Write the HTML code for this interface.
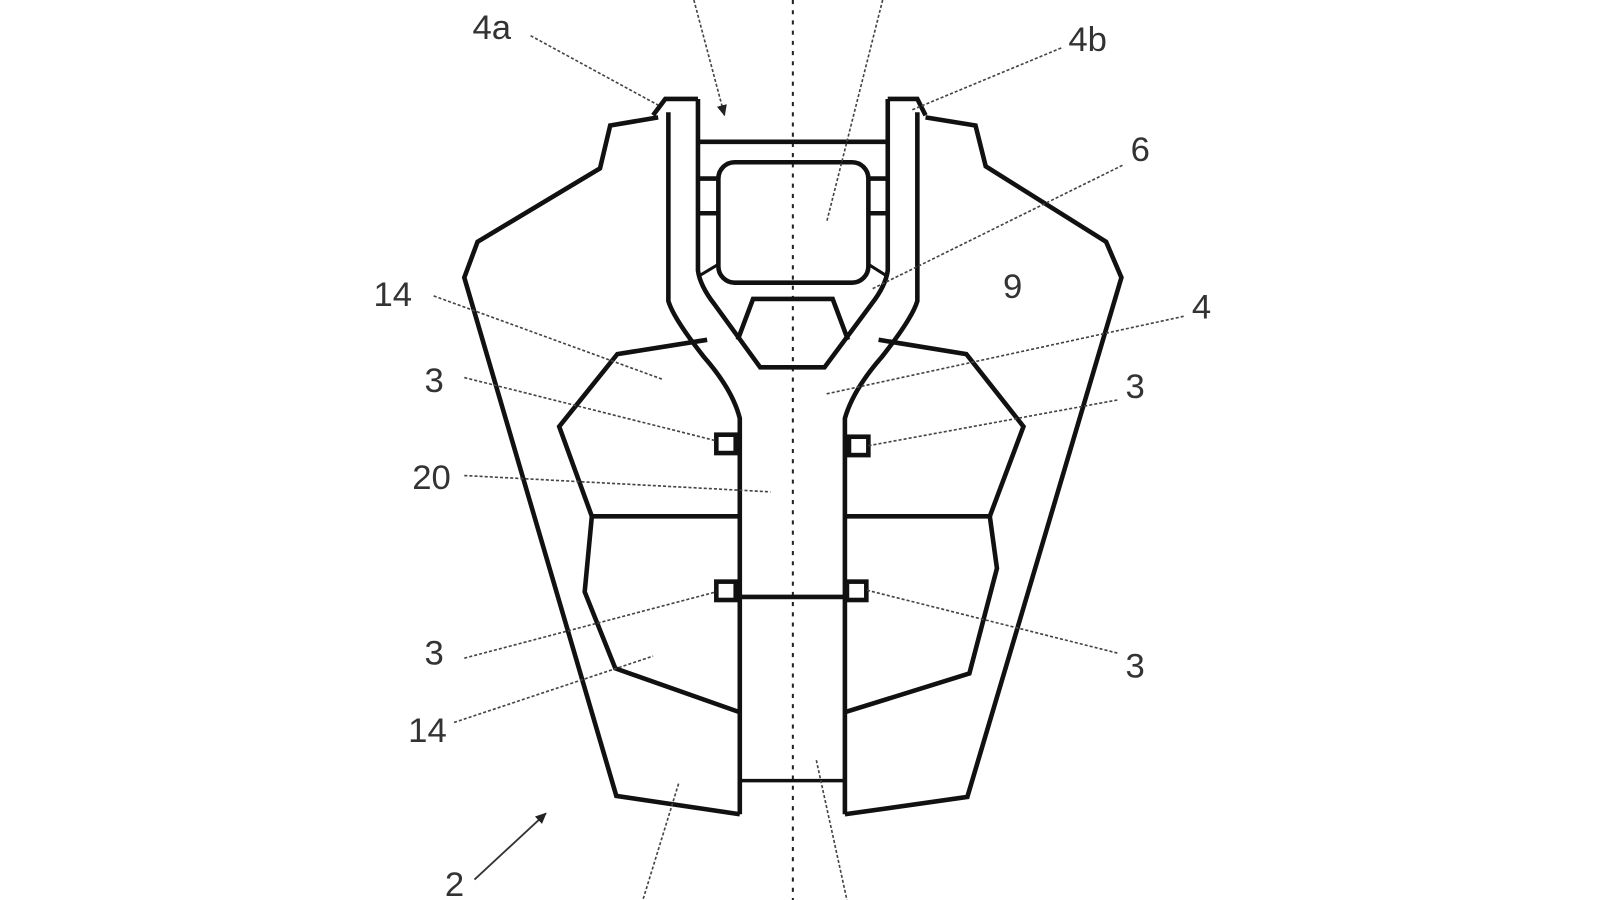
<!DOCTYPE html>
<html><head><style>html,body{margin:0;padding:0;background:#fff}svg{display:block}</style></head>
<body>
<svg width="1600" height="900" viewBox="0 0 1568 882" xmlns="http://www.w3.org/2000/svg">
<defs>
<marker id="ah" markerWidth="12" markerHeight="12" refX="10" refY="6" orient="auto" markerUnits="userSpaceOnUse">
<path d="M0,1 L11,6 L0,11 Z" fill="#222"/></marker>
</defs>
<rect width="1568" height="882" fill="#fff"/>
<line x1="777" y1="0" x2="777" y2="882" stroke="#222" stroke-width="2" stroke-dasharray="4,6"/>
<g fill="none" stroke="#111" stroke-width="4.5" stroke-linejoin="miter">
<polyline points="645,115 598,123 588,165 468,237 455,272 604,780 725,798"/>
<polyline points="907,115 956,123 966,163 1084,237 1099,272 948,781 828,798"/>
<polyline points="640,113 652,97 684,97"/>
<polyline points="870,97 899,97 907,113"/>
<path d="M655,110 L655,295 Q660,312 690,350 Q718,382 725,410 L725,798"/>
<path d="M899,110 L899,295 Q894,312 864,350 Q836,382 828,410 L828,798"/>
<path d="M684,97 L684,265 Q686,280 700,298 L745,360 L808,360 L854,298 Q868,280 870,265 L870,97"/>
<line x1="684" y1="139" x2="870" y2="139"/>
<rect x="704" y="159" width="147" height="118" rx="16"/>
<line x1="684" y1="175" x2="704" y2="175"/><line x1="684" y1="209" x2="704" y2="209"/>
<line x1="851" y1="175" x2="870" y2="175"/><line x1="851" y1="209" x2="870" y2="209"/>
<line x1="684" y1="271" x2="704" y2="259" stroke-width="3"/><line x1="851" y1="259" x2="870" y2="271" stroke-width="3"/>
<polyline points="723,333 738,293 816,293 831,333"/>
<line x1="725" y1="585" x2="828" y2="585"/>
<line x1="725" y1="765" x2="828" y2="765" stroke-width="3.5"/>
<polyline points="693,333 605,347 548,418 580,506 725,506"/>
<polyline points="580,506 573,580 603,655 725,698"/>
<polyline points="861,333 947,347 1003,418 970,506 828,506"/>
<polyline points="970,506 977,557 950,660 828,698"/>
<rect x="702" y="426" width="19" height="18"/>
<rect x="832" y="428" width="19" height="18"/>
<rect x="702" y="570" width="19" height="18"/>
<rect x="830" y="570" width="19" height="18"/>
</g>
<g fill="none" stroke="#444" stroke-width="1.6" stroke-dasharray="3,2">
<line x1="520" y1="35" x2="645" y2="103"/>
<line x1="1040" y1="47" x2="893" y2="108"/>
<line x1="1100" y1="162" x2="855" y2="283"/>
<line x1="1160" y1="310" x2="810" y2="386"/>
<line x1="425" y1="290" x2="650" y2="372"/>
<line x1="455" y1="370" x2="702" y2="432"/>
<line x1="1095" y1="392" x2="850" y2="437"/>
<line x1="455" y1="466" x2="755" y2="482"/>
<line x1="455" y1="645" x2="702" y2="580"/>
<line x1="1095" y1="640" x2="848" y2="578"/>
<line x1="445" y1="708" x2="640" y2="643"/>
<line x1="665" y1="768" x2="630" y2="882"/>
<line x1="800" y1="745" x2="830" y2="882"/>
<line x1="865" y1="0" x2="810" y2="218"/>
<line x1="680" y1="0" x2="710" y2="113" marker-end="url(#ah)"/>
</g>
<line x1="465" y1="862" x2="535" y2="797" stroke="#333" stroke-width="1.8" marker-end="url(#ah)"/>
<g font-family="Liberation Sans, sans-serif" font-size="34" fill="#333">
<text x="463" y="38">4a</text>
<text x="1047" y="50">4b</text>
<text x="1108" y="158">6</text>
<text x="983" y="292">9</text>
<text x="1168" y="312">4</text>
<text x="366" y="300">14</text>
<text x="416" y="384">3</text>
<text x="1103" y="390">3</text>
<text x="404" y="479">20</text>
<text x="416" y="651">3</text>
<text x="1103" y="664">3</text>
<text x="400" y="727">14</text>
<text x="436" y="878">2</text>
</g>
</svg>
</body></html>
